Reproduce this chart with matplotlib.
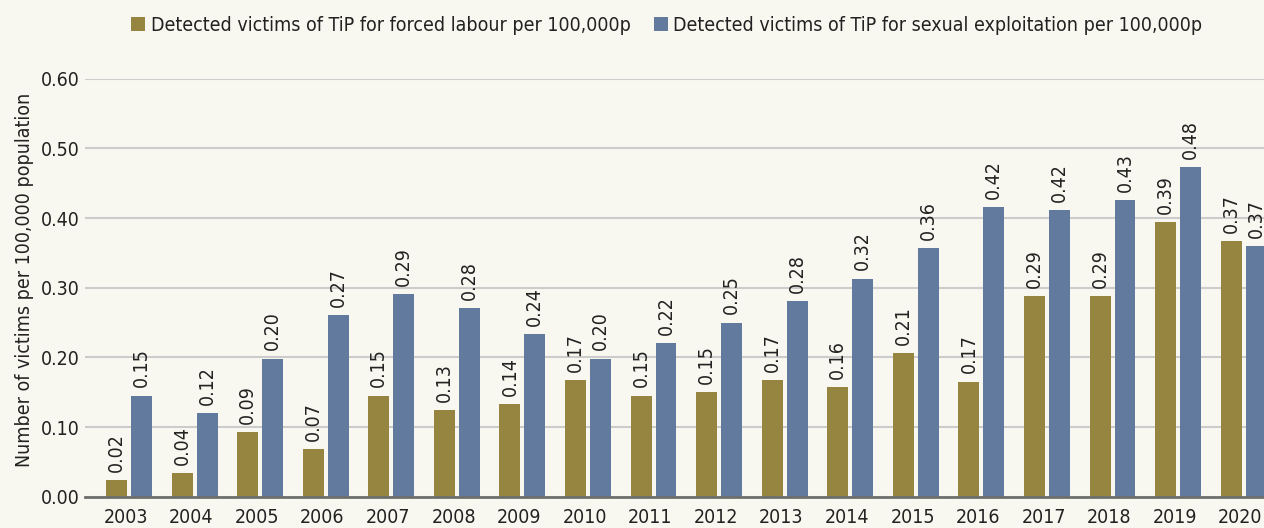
import numpy as np
import matplotlib.pyplot as plt

years = ['2003', '2004', '2005', '2006', '2007', '2008', '2009', '2010', '2011',
         '2012', '2013', '2014', '2015', '2016', '2017', '2018', '2019', '2020']
forced = [0.024, 0.034, 0.093, 0.068, 0.145, 0.124, 0.133, 0.167, 0.145,
          0.150, 0.167, 0.157, 0.206, 0.165, 0.288, 0.288, 0.394, 0.367]
sexual = [0.145, 0.120, 0.198, 0.261, 0.291, 0.271, 0.233, 0.198, 0.220,
          0.250, 0.281, 0.313, 0.357, 0.416, 0.411, 0.426, 0.473, 0.360]
forced_lbl = ['0.02', '0.04', '0.09', '0.07', '0.15', '0.13', '0.14', '0.17', '0.15',
              '0.15', '0.17', '0.16', '0.21', '0.17', '0.29', '0.29', '0.39', '0.37']
sexual_lbl = ['0.15', '0.12', '0.20', '0.27', '0.29', '0.28', '0.24', '0.20', '0.22',
              '0.25', '0.28', '0.32', '0.36', '0.42', '0.42', '0.43', '0.48', '0.37']
legend_labels = ['Detected victims of TiP for forced labour per 100,000p',
                 'Detected victims of TiP for sexual exploitation per 100,000p']

plt.rcParams['font.family'] = ['DejaVu Sans']
plt.rcParams['font.stretch'] = 'condensed'
bg = '#f8f8f0'
olive = '#968540'
blue = '#627a9e'
txt = '#222222'
fs = 14

fig = plt.figure(figsize=(12.64, 5.28), dpi=100, facecolor=bg)
ax = fig.add_axes([85/1264, 1-496.7/528, 1-85/1264, (496.7-78.7)/528])
ax.set_facecolor(bg)

x = np.arange(len(years))
w = 0.32
b1 = ax.bar(x - 0.19, forced, w, color=olive, label=legend_labels[0], zorder=3)
b2 = ax.bar(x + 0.19, sexual, w, color=blue, label=legend_labels[1], zorder=3)

for bars, labels in [(b1, forced_lbl), (b2, sexual_lbl)]:
    for r, t in zip(bars, labels):
        ax.annotate(t, (r.get_x() + r.get_width()/2, r.get_height()),
                    xytext=(0, 6), textcoords='offset points', rotation=90,
                    ha='center', va='bottom', fontsize=fs, color=txt,
                    annotation_clip=False)

ax.set_ylim(0, 0.6)
ax.set_xlim(-0.671, 17.31)
ax.set_yticks(np.arange(0, 0.61, 0.1))
ax.set_yticklabels(['%.2f' % v for v in np.arange(0, 0.61, 0.1)])
ax.set_xticks(x - 0.05)
ax.set_xticklabels(years)
ax.tick_params(axis='both', length=0, labelsize=fs, colors=txt)
ax.tick_params(axis='x', pad=8)
ax.tick_params(axis='y', pad=4)
ax.grid(axis='y', color='#cccccc', linewidth=1.5, zorder=0)
for s in ['top', 'right', 'left']:
    ax.spines[s].set_visible(False)
ax.spines['bottom'].set_color('#6d706c')
ax.spines['bottom'].set_linewidth(2)
ax.spines['bottom'].set_zorder(4)

fig.text(25/1264, 1-280/528, 'Number of victims per 100,000 population',
         rotation=90, ha='center', va='center', fontsize=fs, color=txt)

fig.legend(handles=[b1, b2], loc='center', bbox_to_anchor=(667/1264, 1-25/528),
           ncol=2, frameon=False, fontsize=fs, handlelength=0.7, handleheight=0.7,
           handletextpad=0.3, columnspacing=1.2, labelcolor=txt)

fig.savefig('out.png', dpi=100, facecolor=bg)
